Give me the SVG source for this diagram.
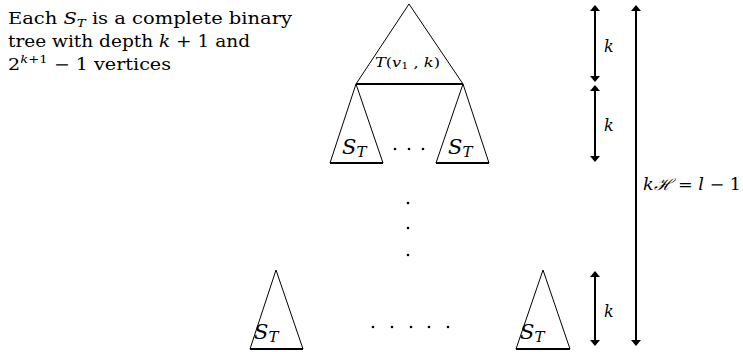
<svg xmlns="http://www.w3.org/2000/svg" width="743" height="352" viewBox="0 0 743 352" font-family="'DejaVu Serif', 'Liberation Serif', serif">
<style>
text{fill:#000}
.i{font-style:italic}
.tri{fill:none;stroke:#000;stroke-width:1;stroke-linejoin:miter}
.base{stroke:#000;stroke-width:2.2}
.arr{stroke:#000;stroke-width:2;fill:none}
.st{font-size:21px}
</style>
<defs>
<marker id="ah" markerWidth="6" markerHeight="10" refX="5" refY="5" orient="auto-start-reverse" markerUnits="userSpaceOnUse" viewBox="0 0 10 10" preserveAspectRatio="none">
<path d="M0,0 L10,5 L0,10 Z" fill="#000"/>
</marker>
</defs>
<g id="caption">
<text x="8" y="24" font-size="16" textLength="284" lengthAdjust="spacingAndGlyphs">Each <tspan class="i">S</tspan><tspan class="i" font-size="11" dy="3">T</tspan><tspan dy="-3"> is a complete binary</tspan></text>
<text x="8" y="47" font-size="16" textLength="242" lengthAdjust="spacingAndGlyphs">tree with depth <tspan class="i">k</tspan> + 1 and</text>
<text x="8" y="70" font-size="16" textLength="163" lengthAdjust="spacingAndGlyphs">2<tspan font-size="11" dy="-7" class="i">k</tspan><tspan font-size="11">+1</tspan><tspan dy="7"> − 1 vertices</tspan></text>
</g>
<g id="top-tree">
<path class="tri" d="M356,84 L409,4 L463,84"/>
<line class="base" x1="356" y1="84" x2="463" y2="84"/>
<text x="375" y="67" font-size="13" textLength="65" lengthAdjust="spacingAndGlyphs"><tspan class="i">T</tspan>(<tspan class="i">v</tspan><tspan font-size="9" dy="2">1</tspan><tspan dy="-2"> , </tspan><tspan class="i">k</tspan>)</text>
</g>
<g id="child-left">
<path class="tri" d="M330,163 L356,84 L383,163"/>
<line class="base" x1="330" y1="163" x2="383" y2="163"/>
<text class="st" x="342" y="154"><tspan class="i">S</tspan><tspan class="i" font-size="15" dy="3">T</tspan></text>
</g>
<g id="child-right">
<path class="tri" d="M436,163 L463,84 L489,163"/>
<line class="base" x1="436" y1="163" x2="489" y2="163"/>
<text class="st" x="448" y="154"><tspan class="i">S</tspan><tspan class="i" font-size="15" dy="3">T</tspan></text>
</g>
<g id="dots-mid">
<circle cx="395" cy="149" r="1.3"/><circle cx="409" cy="149" r="1.3"/><circle cx="423" cy="149" r="1.3"/>
</g>
<g id="dots-vertical">
<circle cx="408" cy="203" r="1.3"/><circle cx="408" cy="228" r="1.3"/><circle cx="408" cy="255" r="1.3"/>
</g>
<g id="leaf-left">
<path class="tri" d="M250,349 L276,270 L303,349"/>
<line class="base" x1="250" y1="349" x2="303" y2="349"/>
<text class="st" x="254" y="339"><tspan class="i">S</tspan><tspan class="i" font-size="15" dy="3">T</tspan></text>
</g>
<g id="leaf-right">
<path class="tri" d="M516,349 L543,270 L570,349"/>
<line class="base" x1="516" y1="349" x2="570" y2="349"/>
<text class="st" x="520" y="339"><tspan class="i">S</tspan><tspan class="i" font-size="15" dy="3">T</tspan></text>
</g>
<g id="dots-bottom">
<circle cx="373" cy="327" r="1.3"/><circle cx="392" cy="327" r="1.3"/><circle cx="411" cy="327" r="1.3"/><circle cx="429" cy="327" r="1.3"/><circle cx="448" cy="327" r="1.3"/>
</g>
<g id="connectors">
<line class="arr" x1="595" y1="8" x2="595" y2="79" marker-start="url(#ah)" marker-end="url(#ah)"/>
<line class="arr" x1="595" y1="88" x2="595" y2="159" marker-start="url(#ah)" marker-end="url(#ah)"/>
<line class="arr" x1="595" y1="274" x2="595" y2="343" marker-start="url(#ah)" marker-end="url(#ah)"/>
<line class="arr" x1="636" y1="8" x2="636" y2="343" marker-start="url(#ah)" marker-end="url(#ah)"/>
</g>
<g id="labels">
<text class="i" x="604" y="52" font-size="16">k</text>
<text class="i" x="604" y="131" font-size="16">k</text>
<text class="i" x="604" y="317" font-size="16">k</text>
<text x="643" y="190" font-size="16" textLength="98" lengthAdjust="spacingAndGlyphs"><tspan class="i">k</tspan><tspan class="i">ℋ</tspan> = <tspan class="i">l</tspan> − 1</text>
</g>
</svg>
